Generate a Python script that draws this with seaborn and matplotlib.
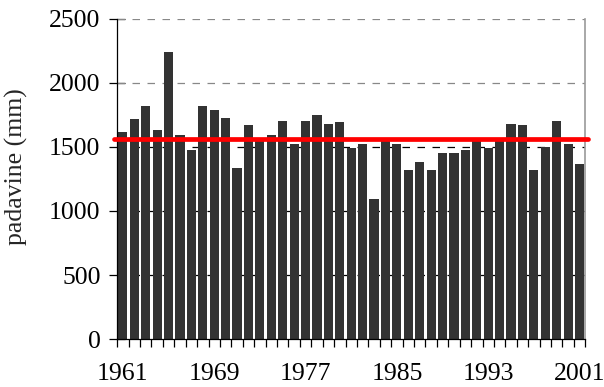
import matplotlib
matplotlib.use('Agg')
from matplotlib import pyplot as plt
from matplotlib.ticker import MultipleLocator, FixedLocator
import seaborn as sns
import pandas as pd

# annual precipitation
years = list(range(1961, 2002))
precip = [1617, 1719, 1820, 1633, 2242, 1594, 1477, 1820, 1789, 1727,
          1336, 1672, 1570, 1594, 1703, 1523, 1703, 1750, 1680, 1695,
          1492, 1523, 1094, 1555, 1523, 1320, 1383, 1320, 1453, 1453,
          1477, 1555, 1492, 1555, 1680, 1672, 1320, 1500, 1703, 1523,
          1367]
mean_precip = 1560
label_every = 8

df = pd.DataFrame({'leto': [str(y) for y in years], 'padavine': precip})

sns.set_theme(style='white')
plt.rcParams['font.family'] = ['Liberation Serif', 'DejaVu Serif']

fig = plt.figure(figsize=(6.04, 3.87), dpi=100)
ax = fig.add_axes([0.194, 0.124, 0.775, 0.827])

sns.barplot(data=df, x='leto', y='padavine', color='#333333', saturation=1,
            width=0.8, linewidth=0, ax=ax, zorder=2)

ax.axhline(mean_precip, xmin=-0.006, xmax=1.006, color='#ff0000', lw=3.4,
           zorder=4, clip_on=False)

ax.set_ylim(0, 2500)
ax.set_xlim(-0.5, len(years) - 0.5)
ax.yaxis.set_major_locator(MultipleLocator(500))

# gridlines
for val in range(500, 2501, 500):
    c = '#888888' if val >= 2000 else '#000000'
    ax.axhline(val, color=c, lw=0.9, ls=(0, (6, 6)), zorder=1)

ax.set_xticks(range(len(years)))
ax.set_xticklabels([str(y) if i % label_every == 0 else '' for i, y in enumerate(years)])
ax.xaxis.set_minor_locator(FixedLocator([i - 0.5 for i in range(len(years) + 1)]))
ax.tick_params(axis='x', which='major', length=0, labelsize=18.5, pad=17, colors='black')
ax.tick_params(axis='x', which='minor', length=6, width=0.9, direction='out',
               bottom=True, color='black')
ax.tick_params(axis='y', which='major', length=12, width=0.9, direction='inout',
               left=True, labelsize=18.5, pad=6, colors='black')

ax.set_xlabel('')
ax.set_ylabel('padavine (mm)', fontsize=18.5)
ax.yaxis.set_label_coords(-0.19, 0.54)

for side in ['left', 'bottom']:
    ax.spines[side].set_color('black')
    ax.spines[side].set_linewidth(0.9)
ax.spines['top'].set_visible(False)
ax.spines['right'].set_color('#999999')
ax.spines['right'].set_linewidth(1.2)

fig.savefig('out.png', dpi=100)
